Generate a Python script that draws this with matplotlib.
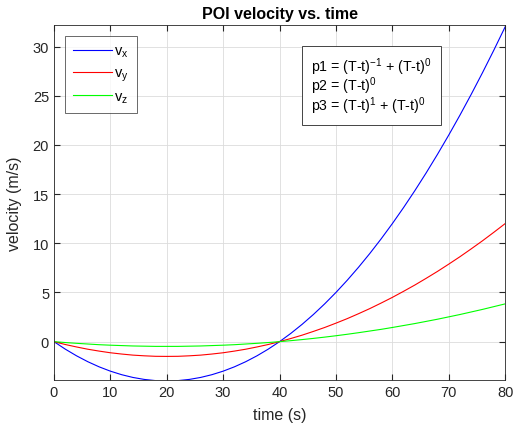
import matplotlib.pyplot as plt

plt.rcParams['font.family'] = ['Liberation Sans', 'DejaVu Sans']
plt.rcParams['mathtext.fontset'] = 'custom'
plt.rcParams['mathtext.rm'] = 'Liberation Sans'
plt.rcParams['mathtext.it'] = 'Liberation Sans'
plt.rcParams['mathtext.default'] = 'regular'

# values, every 2 s
t = list(range(0, 81, 2))
vx = [0, -0.76, -1.44, -2.04, -2.56, -3.0, -3.36, -3.64, -3.84, -3.96, -4.0,
      -3.96, -3.84, -3.64, -3.36, -3.0, -2.56, -2.04, -1.44, -0.76, 0,
      0.84, 1.76, 2.76, 3.84, 5.0, 6.24, 7.56, 8.96, 10.44, 12.0,
      13.64, 15.36, 17.16, 19.04, 21.0, 23.04, 25.16, 27.36, 29.64, 32.0]
vy = [0, -0.29, -0.54, -0.77, -0.96, -1.13, -1.26, -1.37, -1.44, -1.49, -1.5,
      -1.49, -1.44, -1.37, -1.26, -1.13, -0.96, -0.77, -0.54, -0.29, 0,
      0.32, 0.66, 1.04, 1.44, 1.88, 2.34, 2.84, 3.36, 3.92, 4.5,
      5.12, 5.76, 6.44, 7.14, 7.88, 8.64, 9.44, 10.26, 11.12, 12.0]
vz = [0, -0.09, -0.17, -0.24, -0.31, -0.36, -0.40, -0.44, -0.46, -0.48, -0.48,
      -0.48, -0.46, -0.44, -0.40, -0.36, -0.31, -0.24, -0.17, -0.09, 0,
      0.10, 0.21, 0.33, 0.46, 0.60, 0.75, 0.91, 1.08, 1.25, 1.44,
      1.64, 1.84, 2.06, 2.28, 2.52, 2.76, 3.02, 3.28, 3.56, 3.84]

fig = plt.figure(figsize=(5.17, 4.31), dpi=100)
ax = fig.add_axes([0.1044, 0.116, 0.8726, 0.8237])

ax.plot(t, vx, color='#0000ff', lw=0.8, label='v$_{x}$')
ax.plot(t, vy, color='#ff0000', lw=0.8, label='v$_{y}$')
ax.plot(t, vz, color='#00ff00', lw=0.8, label='v$_{z}$')

ax.set_xlim(0, 80)
ax.set_ylim(-3.9, 32.2)
ax.set_xticks(range(0, 81, 10))
ax.set_yticks(range(0, 31, 5))
ax.grid(True, color='#dcdcdc', lw=0.6)
ax.set_axisbelow(True)
ax.tick_params(direction='in', top=True, right=True, labelsize=10.5,
               color='#262626', labelcolor='#262626', length=4)
for s in ax.spines.values():
    s.set_color('#262626')
    s.set_linewidth(0.6)

ax.set_title('POI velocity vs. time', fontsize=11.5, fontweight='bold', pad=5)
ax.set_xlabel('time (s)', fontsize=11.5, color='#262626', labelpad=6)
ax.set_ylabel('velocity (m/s)', fontsize=11.5, color='#262626', labelpad=8)

leg = ax.legend(loc='upper left', bbox_to_anchor=(0.024, 0.97), fancybox=False,
                edgecolor='#262626', fontsize=10.5, handlelength=2.7,
                borderaxespad=0, labelspacing=0.45, handletextpad=0.15,
                borderpad=0.55)
leg.get_frame().set_linewidth(0.6)

txt = ('p1 = (T-t)$^{-1}$ + (T-t)$^{0}$\n'
       'p2 = (T-t)$^{0}$\n'
       'p3 = (T-t)$^{1}$ + (T-t)$^{0}$')
ax.text(0.57, 0.915, txt, transform=ax.transAxes, fontsize=10.2, va='top',
        linespacing=0.88,
        bbox=dict(boxstyle='square,pad=0.65', fc='white', ec='#262626', lw=0.6))

fig.savefig('out.png', dpi=100)
